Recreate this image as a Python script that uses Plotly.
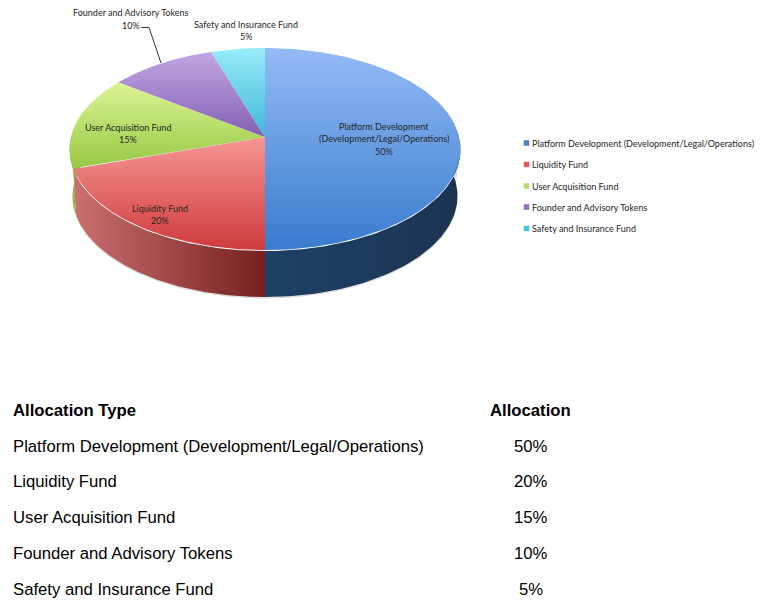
import numpy as np
import plotly.graph_objects as go

# Token allocation data
categories = [
    "Platform Development (Development/Legal/Operations)",
    "Liquidity Fund",
    "User Acquisition Fund",
    "Founder and Advisory Tokens",
    "Safety and Insurance Fund",
]
shares = [50, 20, 15, 10, 5]
slice_labels = [
    ["Platform Development", "(Development/Legal/Operations)", "50%"],
    ["Liquidity Fund", "20%"],
    ["User Acquisition Fund", "15%"],
    ["Founder and Advisory Tokens", "10%"],
    ["Safety and Insurance Fund", "5%"],
]
table_headers = ["Allocation Type", "Allocation"]

# Appearance of each slice: top-face gradient, side gradient, legend swatch
top_light = ["#93bbf6", "#f69696", "#dcf496", "#c2a6e4", "#98ecfa"]
top_dark = ["#387ccd", "#cf3b3b", "#97c843", "#8460b2", "#3fb6d8"]
side_left = ["#1f4068", "#cc7070", "#8fb54a", "#6a4a90", "#2f90b0"]
side_right = ["#1b3350", "#762020", "#8fb54a", "#6a4a90", "#2f90b0"]
swatches = ["#4f81bd", "#e05c5c", "#b5dc68", "#8e6fb8", "#4bc3e0"]

# Perspective disc parameters, in page pixels
APEX_X, APEX_Y = 265, 137
SCALE_X, SCALE_Y = 194.1, 99.6
TILT = 0.1188
DEPTH = 47
LOWER_RIM_SHRINK = 0.985
# Angular window of the wall that faces the viewer
WALL_FROM, WALL_TO = np.radians(75), np.radians(285)


def rim(theta, drop=0.0, shrink=1.0):
    """Project clockwise-from-top angles onto the tilted disc."""
    u, v = np.sin(theta), -np.cos(theta)
    w = 1 - TILT * v
    return APEX_X + shrink * SCALE_X * u / w, APEX_Y + SCALE_Y * v / w + drop


def gradient(kind, start, stop, c0, c1):
    return dict(type=kind, start=start, stop=stop, colorscale=[[0, c0], [1, c1]])


fig = go.Figure()

edges = np.cumsum([0] + shares) / sum(shares) * 2 * np.pi
front_angles = np.linspace(WALL_FROM, WALL_TO, 240)

# Soft shadow below the extruded edge
sx0, sy0 = rim(front_angles, 20, LOWER_RIM_SHRINK)
sx1, sy1 = rim(front_angles, DEPTH + 1.5, LOWER_RIM_SHRINK)
fig.add_trace(go.Scatter(x=np.r_[sx0, sx1[::-1], sx0[0]], y=np.r_[sy0, sy1[::-1], sy0[0]],
                         mode="lines", fill="toself", fillcolor="rgba(0,0,0,0.13)",
                         line=dict(width=0), hoverinfo="skip"))

# Side walls, kept just inside the top faces that are drawn over them
for i in range(len(shares)):
    lo, hi = max(edges[i], WALL_FROM), min(edges[i + 1], WALL_TO)
    if lo >= hi:
        continue
    t = np.linspace(lo, hi, 120)
    tx, ty = rim(t, 1.0)
    bx, by = rim(t, DEPTH, LOWER_RIM_SHRINK)
    px = np.r_[tx, bx[::-1], tx[0]]
    py = np.r_[ty, by[::-1], ty[0]]
    if i == 0:
        g = gradient("horizontal", APEX_X, 460, side_left[i], side_right[i])
    elif i == 1:
        g = gradient("horizontal", 73, APEX_X, side_left[i], side_right[i])
    else:
        g = gradient("horizontal", px.min(), px.max(), side_left[i], side_right[i])
    fig.add_trace(go.Scatter(x=px, y=py, mode="lines", fill="toself",
                             fillgradient=g, line=dict(width=0), hoverinfo="skip"))

# Top faces with vertical shading
for i in range(len(shares)):
    t = np.linspace(edges[i], edges[i + 1], 160)
    ax, ay = rim(t)
    px = np.r_[APEX_X, ax, APEX_X]
    py = np.r_[APEX_Y, ay, APEX_Y]
    g = gradient("vertical", py.min(), py.max(), top_light[i], top_dark[i])
    fig.add_trace(go.Scatter(x=px, y=py, mode="lines", fill="toself",
                             fillgradient=g, line=dict(width=0), hoverinfo="skip"))

# Leader line for the founder slice
fig.add_trace(go.Scatter(x=[141, 149, 161], y=[27.5, 27.5, 63], mode="lines",
                         line=dict(color="#333333", width=1), hoverinfo="skip"))

# Legend swatches with their captions
LEGEND_X = 526.5
legend_y = [143, 164.5, 186, 207, 228.5]
fig.add_trace(go.Scatter(x=[LEGEND_X] * len(categories), y=legend_y, mode="markers",
                         marker=dict(symbol="square", size=5.5, color=swatches, line=dict(width=0)),
                         hoverinfo="skip"))

CHART_FONT = "Lato, Carlito, sans-serif"
TABLE_FONT = "Liberation Sans, Arial, sans-serif"
annotations = []


def add_text(x, y, text, font, size, color, anchor="center", bold=False):
    label = f"<b>{text}</b>" if bold else text
    annotations.append(dict(x=x, y=y, xref="x", yref="y", text=label, showarrow=False,
                            xanchor=anchor, yanchor="middle", align=anchor,
                            font=dict(family=font, size=size, color=color)))


# Slice captions: first-line position, then an even line pitch
LABEL_PITCH = 12.6
slice_label_pos = [(384, 126), (160, 208), (128, 127), (131, 12.5), (246, 24)]
for (x, y), lines in zip(slice_label_pos, slice_labels):
    for n, line in enumerate(lines):
        add_text(x, y + n * LABEL_PITCH, line, CHART_FONT, 9, "#262626")

for y, name in zip(legend_y, categories):
    add_text(530, y, name, CHART_FONT, 9, "#262626", anchor="left")

# Allocation table underneath the chart
TABLE_LEFT, TABLE_VALUE = 11, 530.5
add_text(TABLE_LEFT, 410.5, table_headers[0], TABLE_FONT, 16.7, "#000000", anchor="left", bold=True)
add_text(TABLE_VALUE, 410.5, table_headers[1], TABLE_FONT, 16.7, "#000000", bold=True)
row_y = [446, 481, 517, 553, 589]
for y, name, share in zip(row_y, categories, shares):
    add_text(TABLE_LEFT, y, name, TABLE_FONT, 16.7, "#000000", anchor="left")
    add_text(TABLE_VALUE, y, f"{share}%", TABLE_FONT, 16.7, "#000000")

fig.update_layout(
    width=766, height=609, margin=dict(l=0, r=0, t=0, b=0), autosize=False,
    paper_bgcolor="white", plot_bgcolor="white", showlegend=False,
    xaxis=dict(range=[0, 766], visible=False, fixedrange=True),
    yaxis=dict(range=[609, 0], visible=False, fixedrange=True),
    annotations=annotations,
)

fig.write_html("out.html", config=dict(displayModeBar=False))
